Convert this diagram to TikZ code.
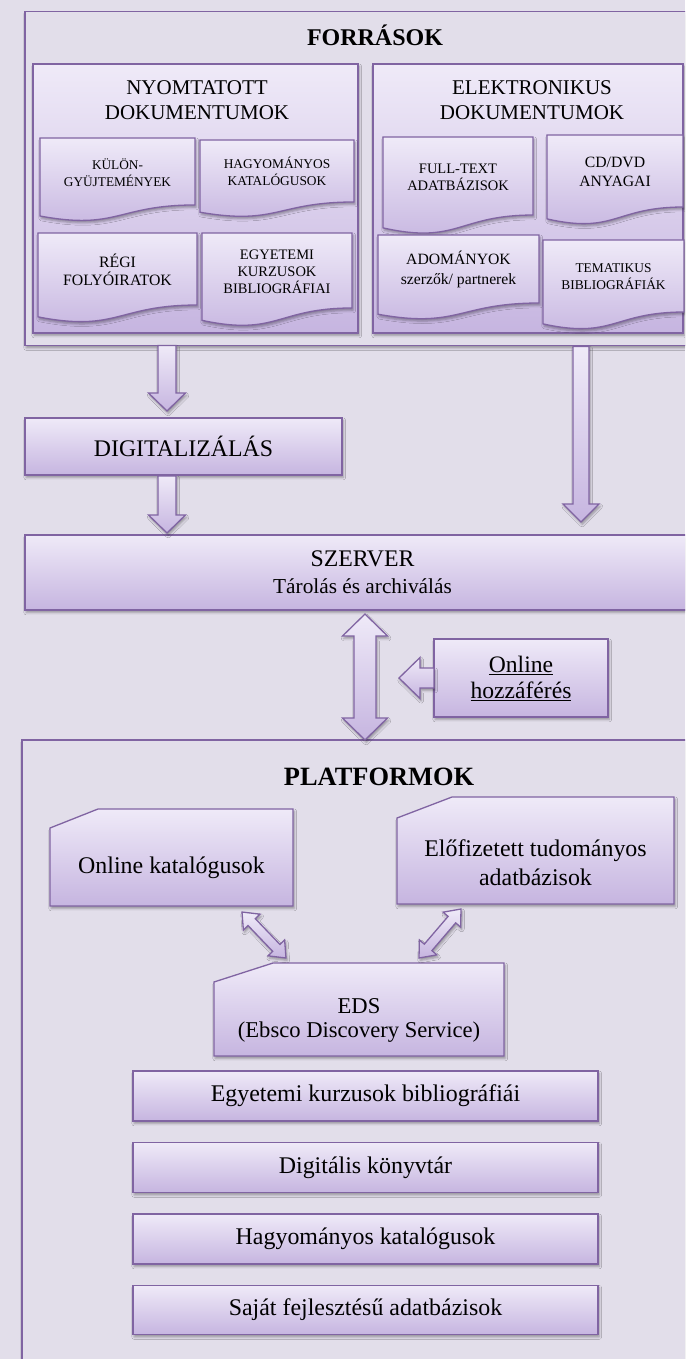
\documentclass[tikz,border=0pt]{standalone}
\usepackage{fontspec}
\setmainfont{Liberation Serif}
\usetikzlibrary{calc,positioning,shadows.blur}
\definecolor{platbg}{HTML}{E2DEEA}
\definecolor{platline}{HTML}{8064A2}
\definecolor{gradtop}{HTML}{EFEAF8}
\definecolor{gradbot}{HTML}{C6B5E0}
\newcommand\fsz[2]{\fontsize{#1}{#2}\selectfont}

% document with wavy bottom: name, x1, y1, x2, h, size, skip, text
\newcommand\docnode[8]{%
  \draw[filled] (#2,#3) -- (#4,#3) -- (#4,{#3+0.802*#5})
    .. controls ({(#2+#4)/2},{#3+0.802*#5}) and ({(#2+#4)/2},{#3+1.107*#5}) .. (#2,{#3+0.934*#5}) -- cycle;
  \node[font=\fsz{#6}{#7}, align=center] (#1) at ({(#2+#4)/2},{#3+0.41*#5}) {#8};}

% box with snipped top left corner, drawn on a node
\newcommand\snipshape[3]{%
  \draw[filled] ($(#1.north west)+(0,#3)$) -- ($(#1.north west)+(#2,0)$) -- (#1.north east)
    -- (#1.south east) -- (#1.south west) -- cycle;}

% block arrows: from, to, shaft half width, head half width, head length
\newcommand\blkarrow[5]{%
  \draw[filled] let \p1=($(#2)-(#1)$), \n1={atan2(\y1,\x1)}, \n2={veclen(\x1,\y1)} in
    ($(#1)+(\n1+90:#3)$) -- ($(#1)+(\n1:\n2-#5)+(\n1+90:#3)$) -- ($(#1)+(\n1:\n2-#5)+(\n1+90:#4)$) -- (#2)
    -- ($(#1)+(\n1:\n2-#5)+(\n1-90:#4)$) -- ($(#1)+(\n1:\n2-#5)+(\n1-90:#3)$) -- ($(#1)+(\n1-90:#3)$) -- cycle;}
\newcommand\dblarrow[5]{%
  \draw[filled] let \p1=($(#2)-(#1)$), \n1={atan2(\y1,\x1)}, \n2={veclen(\x1,\y1)} in
    (#1) -- ($(#1)+(\n1:#5)+(\n1+90:#4)$) -- ($(#1)+(\n1:#5)+(\n1+90:#3)$)
    -- ($(#1)+(\n1:\n2-#5)+(\n1+90:#3)$) -- ($(#1)+(\n1:\n2-#5)+(\n1+90:#4)$) -- (#2)
    -- ($(#1)+(\n1:\n2-#5)+(\n1-90:#4)$) -- ($(#1)+(\n1:\n2-#5)+(\n1-90:#3)$)
    -- ($(#1)+(\n1:#5)+(\n1-90:#3)$) -- ($(#1)+(\n1:#5)+(\n1-90:#4)$) -- cycle;}

\tikzset{
  softshadow/.style={blur shadow={shadow xshift=1.2pt,shadow yshift=-2.4pt,shadow blur radius=2.4pt,shadow opacity=35}},
  filled/.style={draw=platline,line width=1.3pt,top color=gradtop,bottom color=gradbot,softshadow},
  boxnode/.style={filled,rectangle,inner sep=0pt,outer sep=0pt,align=center},
  outerframe/.style={draw=platline,line width=1.3pt,fill=platbg,rectangle,inner sep=0pt,outer sep=0pt,softshadow},
  snipnode/.style={rectangle,inner sep=0pt,outer sep=0pt}
}

\begin{document}
\begin{tikzpicture}[x=1pt,y=-1pt]
\useasboundingbox (0,0) rectangle (685,1359);
\fill[platbg] (0,0) rectangle (685,1359);
\clip (0,0) rectangle (685,1359);

% sources
\node[outerframe,minimum width=675pt,minimum height=334pt] (forras) at (362.5,178.5) {};
\node[font=\bfseries\fsz{24}{28}] (forrastitle) at (375,35) {FORRÁSOK};
\node[boxnode,minimum width=325pt,minimum height=269pt] (nyomt) at (195.5,198.5) {};
\node[font=\fsz{21}{25},align=center] (nyomttitle) at (197,100.5) {NYOMTATOTT\\DOKUMENTUMOK};
\node[boxnode,minimum width=310pt,minimum height=269pt] (elekt) at (528,198.5) {};
\node[font=\fsz{21}{25},align=center] (elekttitle) at (532,100.5) {ELEKTRONIKUS\\DOKUMENTUMOK};

\docnode{kulon}{40}{138}{195}{83.5}{13.3}{17}{KÜLÖN-\\GYÜJTEMÉNYEK}
\docnode{hagyk}{200}{140}{354}{77.3}{13.4}{17}{HAGYOMÁNYOS\\KATALÓGUSOK}
\docnode{regi}{38}{233}{197}{89.8}{15.8}{18}{RÉGI\\FOLYÓIRATOK}
\docnode{egyb}{202}{233}{352}{93.5}{14.5}{17}{EGYETEMI\\KURZUSOK\\BIBLIOGRÁFIAI}
\docnode{fullt}{383}{137}{533}{97.3}{14.5}{17}{FULL-TEXT\\ADATBÁZISOK}
\docnode{cddvd}{547}{135}{683}{89.8}{15.7}{19}{CD/DVD\\ANYAGAI}
\docnode{adom}{378}{235}{539}{84.8}{15.7}{20}{ADOMÁNYOK\\szerzők/ partnerek}
\docnode{temat}{543}{240}{684}{89.8}{13.4}{17}{TEMATIKUS\\BIBLIOGRÁFIÁK}

% processing and storage
\node[boxnode,minimum width=317pt,minimum height=57pt,font=\fsz{23.8}{28}] (digit) at (183.5,446.5) {DIGITALIZÁLÁS};
\node[boxnode,minimum width=675pt,minimum height=75pt,font=\fsz{23.8}{27}] (szerver) at (362.5,572.5)
  {SZERVER\\{\fsz{21.3}{26}Tárolás és archiválás}};
\node[boxnode,minimum width=174pt,minimum height=78pt,font=\fsz{23.6}{26}] (online) at (521,678)
  {\underline{Online}\\\underline{hozzáférés}};

\coordinate (a1s) at ($(forras.south west)+(142,0)$);
\coordinate (a1t) at ($(digit.north west)+(142,-7)$);
\coordinate (a2s) at ($(digit.south west)+(142,1)$);
\coordinate (a2t) at ($(szerver.north west)+(142,-2)$);
\coordinate (a3s) at ($(forras.south west)+(556,1)$);
\coordinate (a3t) at ($(szerver.north west)+(556,-13)$);
\blkarrow{a1s}{a1t}{9pt}{18.5pt}{18pt}
\blkarrow{a2s}{a2t}{9pt}{18.5pt}{18pt}
\blkarrow{a3s}{a3t}{8pt}{18pt}{18pt}

% platforms
\node[outerframe,minimum width=678pt,minimum height=640pt] (platf) at (361,1060) {};
\node[font=\bfseries\fsz{26.4}{30}] (platftitle) at (379,777) {PLATFORMOK};

\coordinate (d1) at ($(szerver.south west)+(340,4)$);
\coordinate (d2) at ($(platf.north west)+(343,0)$);
\dblarrow{d1}{d2}{11pt}{22.5pt}{22pt}
\coordinate (o2) at ($(online.west)+(-35,0)$);
\blkarrow{online.west}{o2}{10pt}{20.5pt}{21pt}

\node[snipnode,minimum width=243pt,minimum height=97pt] (onlinekat) at (171.5,857.5) {};
\snipshape{onlinekat}{48}{19}
\node[font=\fsz{23.9}{29}] (onlinekattxt) at ($(onlinekat.center)+(0,10.5)$) {Online katalógusok};
\node[snipnode,minimum width=277pt,minimum height=107pt] (elofiz) at (535.5,850.5) {};
\snipshape{elofiz}{55}{21}
\node[font=\fsz{23.9}{29},align=center] (elofiztxt) at ($(elofiz.center)+(0,12)$) {Előfizetett tudományos\\adatbázisok};
\node[snipnode,minimum width=290pt,minimum height=93pt] (eds) at (359,1009.5) {};
\snipshape{eds}{59}{19}
\node[font=\fsz{22.6}{24},align=center] (edstxt) at ($(eds.center)+(0,10.5)$) {EDS\\(Ebsco Discovery Service)};

\coordinate (k1) at ($(onlinekat.south west)+(192,6)$);
\coordinate (k2) at ($(eds.north west)+(72,-5)$);
\coordinate (e1) at ($(elofiz.south west)+(64,5)$);
\coordinate (e2) at ($(eds.north west)+(205,-5)$);
\dblarrow{k1}{k2}{5pt}{11.5pt}{14pt}
\dblarrow{e1}{e2}{5pt}{11.5pt}{14pt}

\node[boxnode,minimum width=465pt,minimum height=50pt,font=\fsz{23.9}{28}] (egyk) at (365.5,1096) {Egyetemi kurzusok bibliográfiái};
\node[boxnode,minimum width=465pt,minimum height=50pt,font=\fsz{23.9}{28},below=21.5pt of egyk] (digk) {Digitális könyvtár};
\node[boxnode,minimum width=465pt,minimum height=50pt,font=\fsz{23.9}{28},below=21.5pt of digk] (hagyomk) {Hagyományos katalógusok};
\node[boxnode,minimum width=465pt,minimum height=49pt,font=\fsz{23.9}{28},below=21.5pt of hagyomk] (sajat) {Saját fejlesztésű adatbázisok};
\end{tikzpicture}
\end{document}
